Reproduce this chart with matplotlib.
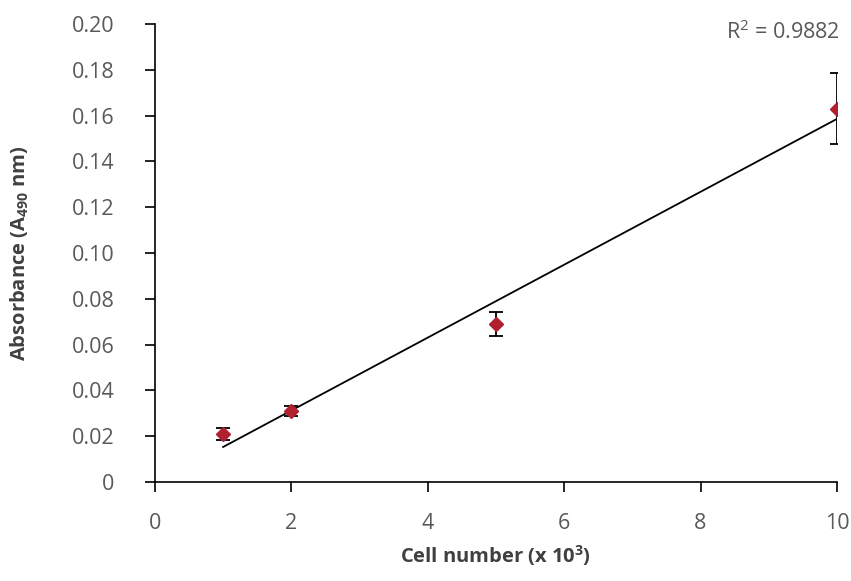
import numpy as np
import matplotlib.pyplot as plt

# cell number (x 10^3) vs absorbance at 490 nm
cells = np.array([1, 2, 5, 10])
absorb = np.array([0.021, 0.031, 0.069, 0.163])
err = np.array([0.0027, 0.002, 0.0052, 0.0155])
r2_label = 'R$^2$ = 0.9882'

xticks = [0, 2, 4, 6, 8, 10]
yticks = [0, 0.02, 0.04, 0.06, 0.08, 0.10, 0.12, 0.14, 0.16, 0.18, 0.20]
ytick_labels = ['0', '0.02', '0.04', '0.06', '0.08', '0.10', '0.12', '0.14', '0.16', '0.18', '0.20']

plt.rcParams['font.family'] = ['Open Sans', 'DejaVu Sans']
plt.rcParams['mathtext.fontset'] = 'custom'
plt.rcParams['mathtext.rm'] = 'Open Sans'
plt.rcParams['mathtext.bf'] = 'Open Sans:bold'

fig = plt.figure(figsize=(8.51, 5.81), dpi=100)
ax = fig.add_axes([0.182, 0.1704, 0.8015, 0.7883])

# linear trendline through the means
slope, icpt = np.polyfit(cells, absorb, 1)
xl = np.array([cells.min(), cells.max()])
ax.plot(xl, slope * xl + icpt, color='black', lw=1.3, zorder=2)

ax.errorbar(cells, absorb, yerr=err, fmt='D', color='#B0202E', ms=7.5,
            ecolor='black', elinewidth=1.3, capsize=5, capthick=1.3, zorder=3)

ax.set_xlim(0, 10)
ax.set_ylim(0, 0.20)
ax.set_xticks(xticks)
ax.set_yticks(yticks)
ax.set_yticklabels(ytick_labels)

for s in ['top', 'right']:
    ax.spines[s].set_visible(False)
for s in ['left', 'bottom']:
    ax.spines[s].set_color('black')
    ax.spines[s].set_linewidth(1.2)
ax.tick_params(direction='out', length=7, width=1.2, color='black',
               labelcolor='#595959', labelsize=15.5)
ax.tick_params(axis='y', pad=22)
ax.tick_params(axis='x', pad=15)

ax.set_xlabel('Cell number (x 10$^{\\mathbf{3}}$)', fontsize=14.5, fontweight='bold',
              color='#404040', va='center')
ax.set_ylabel('Absorbance (A$_{\\mathbf{490}}$ nm)', fontsize=14.5, fontweight='bold',
              color='#404040', va='center')
ax.xaxis.set_label_coords(0.5, -0.16)
ax.yaxis.set_label_coords(-0.198, 0.5)

ax.text(1.005, 0.982, r2_label, transform=ax.transAxes, ha='right', va='center',
        fontsize=15.5, color='#595959')

fig.savefig('out.png', dpi=100)
